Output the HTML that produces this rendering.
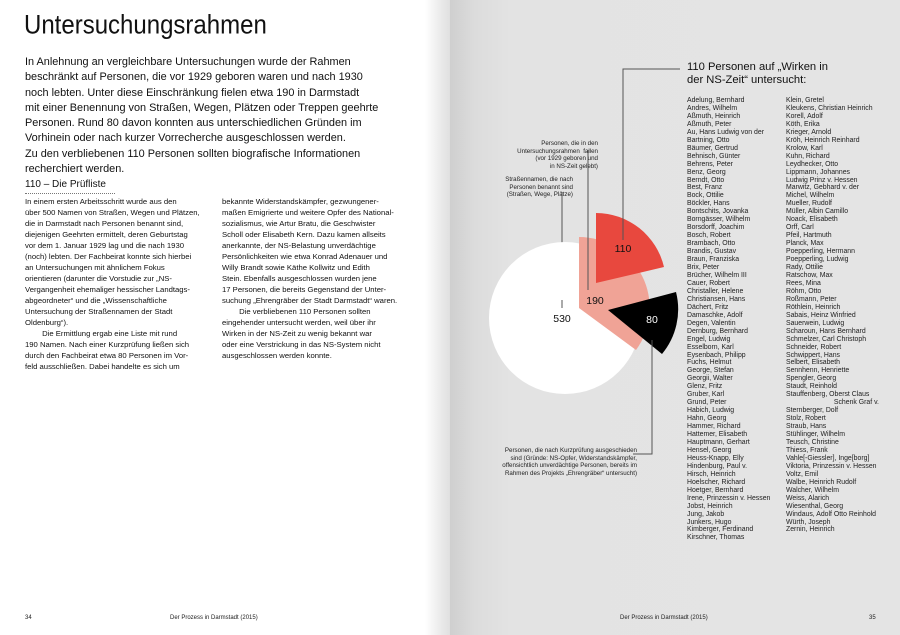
<!DOCTYPE html>
<html><head><meta charset="utf-8">
<style>
*{margin:0;padding:0}
body{width:900px;height:635px;position:relative;overflow:hidden;background:#fff;font-family:"Liberation Sans",sans-serif;color:#111}
#right{position:absolute;left:450px;top:0;width:450px;height:635px;background:linear-gradient(to right,#cfcfcf 0px,#dcdcdc 25px,#e3e3e3 60px,#e4e4e4 100%)}
#gut{position:absolute;left:425px;top:0;width:25px;height:635px;background:linear-gradient(to right,#fff,#e8e8e8 70%,#e0e0e0)}
.a{position:absolute;white-space:pre}
h1{position:absolute;left:24px;top:10px;font-weight:normal;font-size:24px;transform:scaleY(1.12);transform-origin:0 0;color:#111}
.intro{left:25px;top:55px;font-size:10.9px;line-height:15.3px}
.sub{left:25px;top:179px;font-size:10px;line-height:12px}
.dot{position:absolute;left:25px;top:193px;width:90px;border-top:1px dotted #777}
.body{font-size:7.7px;line-height:11px;top:196px}
.names{font-size:6.9px;line-height:7.95px;top:97px;color:#222}
.cap{font-size:6.2px;line-height:7.6px;text-align:right;color:#222}
.foot{font-size:6px;top:615px;color:#222}
</style></head><body>
<div id="gut"></div>
<div id="right"></div>
<h1>Untersuchungsrahmen</h1>
<div class="a intro">In Anlehnung an vergleichbare Untersuchungen wurde der Rahmen
beschränkt auf Personen, die vor 1929 geboren waren und nach 1930
noch lebten. Unter diese Einschränkung fielen etwa 190 in Darmstadt
mit einer Benennung von Straßen, Wegen, Plätzen oder Treppen geehrte
Personen. Rund 80 davon konnten aus unterschiedlichen Gründen im
Vorhinein oder nach kurzer Vorrecherche ausgeschlossen werden.
Zu den verbliebenen 110 Personen sollten biografische Informationen
recherchiert werden.</div>
<div class="a sub">110 – Die Prüfliste</div>
<div class="dot"></div>
<div class="a body" style="left:25px">In einem ersten Arbeitsschritt wurde aus den
über 500 Namen von Straßen, Wegen und Plätzen,
die in Darmstadt nach Personen benannt sind,
diejenigen Geehrten ermittelt, deren Geburtstag
vor dem 1. Januar 1929 lag und die nach 1930
(noch) lebten. Der Fachbeirat konnte sich hierbei
an Untersuchungen mit ähnlichem Fokus
orientieren (darunter die Vorstudie zur „NS-
Vergangenheit ehemaliger hessischer Landtags-
abgeordneter“ und die „Wissenschaftliche
Untersuchung der Straßennamen der Stadt
Oldenburg“).
        Die Ermittlung ergab eine Liste mit rund
190 Namen. Nach einer Kurzprüfung ließen sich
durch den Fachbeirat etwa 80 Personen im Vor-
feld ausschließen. Dabei handelte es sich um</div>
<div class="a body" style="left:222px">bekannte Widerstandskämpfer, gezwungener-
maßen Emigrierte und weitere Opfer des National-
sozialismus, wie Artur Bratu, die Geschwister
Scholl oder Elisabeth Kern. Dazu kamen allseits
anerkannte, der NS-Belastung unverdächtige
Persönlichkeiten wie etwa Konrad Adenauer und
Willy Brandt sowie Käthe Kollwitz und Edith
Stein. Ebenfalls ausgeschlossen wurden jene
17 Personen, die bereits Gegenstand der Unter-
suchung „Ehrengräber der Stadt Darmstadt“ waren.
        Die verbliebenen 110 Personen sollten
eingehender untersucht werden, weil über ihr
Wirken in der NS-Zeit zu wenig bekannt war
oder eine Verstrickung in das NS-System nicht
ausgeschlossen werden konnte.</div>

<svg class="a" style="left:0;top:0" width="900" height="635">
<g stroke="#555" stroke-width="1" fill="none">
<polyline points="623,240 623,69 680,69"/>
<line x1="588" y1="290" x2="588" y2="150"/>
<line x1="562" y1="308" x2="562" y2="192"/>
<polyline points="652,326 652,454 633,454"/>
</g>
<circle cx="565" cy="318" r="76" fill="#fff"/>
<path d="M579,308 L579,237 A71,71 0 0 1 636,350 Z" fill="#f0a396"/>
<path d="M596,283 L596,213 A70,70 0 0 1 664,267 Z" fill="#e8483e"/>
<path d="M608,310 L676,292 A70,70 0 0 1 662,354 Z" fill="#000"/>
<line x1="562" y1="308" x2="562" y2="300" stroke="#555"/>
<line x1="588" y1="290" x2="588" y2="237" stroke="#555"/>
<line x1="623" y1="240" x2="623" y2="213" stroke="#555"/>
<line x1="652" y1="354" x2="652" y2="340" stroke="#555"/>
<g font-family="Liberation Sans,sans-serif" font-size="10.5" text-anchor="middle">
<text x="562" y="322" fill="#111">530</text>
<text x="595" y="304" fill="#111">190</text>
<text x="623" y="252" fill="#111">110</text>
<text x="652" y="323" fill="#fff">80</text>
</g>
</svg>

<div class="a cap" style="right:302px;top:140px">Personen, die in den
Untersuchungsrahmen  fallen
(vor 1929 geboren und
in NS-Zeit gelebt)</div>
<div class="a cap" style="right:327px;top:176px">Straßennamen, die nach
Personen benannt sind
(Straßen, Wege, Plätze)</div>
<div class="a cap" style="right:263px;top:447px">Personen, die nach Kurzprüfung ausgeschieden
sind (Gründe: NS-Opfer, Widerstandskämpfer,
offensichtlich unverdächtige Personen, bereits im
Rahmen des Projekts „Ehrengräber“ untersucht)</div>

<div class="a" style="left:687px;top:61px;font-size:11.2px;line-height:12.5px;color:#111">110 Personen auf „Wirken in
der NS-Zeit“ untersucht:</div>

<div class="a names" style="left:687px">Adelung, Bernhard
Andres, Wilhelm
Aßmuth, Heinrich
Aßmuth, Peter
Au, Hans Ludwig von der
Bartning, Otto
Bäumer, Gertrud
Behnisch, Günter
Behrens, Peter
Benz, Georg
Berndt, Otto
Best, Franz
Bock, Ottilie
Böckler, Hans
Bontschits, Jovanka
Borngässer, Wilhelm
Borsdorff, Joachim
Bosch, Robert
Brambach, Otto
Brandis, Gustav
Braun, Franziska
Brix, Peter
Brücher, Wilhelm III
Cauer, Robert
Christaller, Helene
Christiansen, Hans
Dächert, Fritz
Damaschke, Adolf
Degen, Valentin
Dernburg, Bernhard
Engel, Ludwig
Esselborn, Karl
Eysenbach, Philipp
Fuchs, Helmut
George, Stefan
Georgii, Walter
Glenz, Fritz
Gruber, Karl
Grund, Peter
Habich, Ludwig
Hahn, Georg
Hammer, Richard
Hattemer, Elisabeth
Hauptmann, Gerhart
Hensel, Georg
Heuss-Knapp, Elly
Hindenburg, Paul v.
Hirsch, Heinrich
Hoelscher, Richard
Hoetger, Bernhard
Irene, Prinzessin v. Hessen
Jobst, Heinrich
Jung, Jakob
Junkers, Hugo
Kimberger, Ferdinand
Kirschner, Thomas</div>
<div class="a names" style="left:786px">Klein, Gretel
Kleukens, Christian Heinrich
Korell, Adolf
Köth, Erika
Krieger, Arnold
Kröh, Heinrich Reinhard
Krolow, Karl
Kuhn, Richard
Leydhecker, Otto
Lippmann, Johannes
Ludwig Prinz v. Hessen
Marwitz, Gebhard v. der
Michel, Wilhelm
Mueller, Rudolf
Müller, Albin Camillo
Noack, Elisabeth
Orff, Carl
Pfeil, Hartmuth
Planck, Max
Poepperling, Hermann
Poepperling, Ludwig
Rady, Ottilie
Ratschow, Max
Rees, Mina
Röhm, Otto
Roßmann, Peter
Röthlein, Heinrich
Sabais, Heinz Winfried
Sauerwein, Ludwig
Scharoun, Hans Bernhard
Schmelzer, Carl Christoph
Schneider, Robert
Schwippert, Hans
Selbert, Elisabeth
Sennhenn, Henriette
Spengler, Georg
Staudt, Reinhold
Stauffenberg, Oberst Claus
                         Schenk Graf v.
Sternberger, Dolf
Stolz, Robert
Straub, Hans
Stühlinger, Wilhelm
Teusch, Christine
Thiess, Frank
Vahle[-Giessler], Inge[borg]
Viktoria, Prinzessin v. Hessen
Voltz, Emil
Walbe, Heinrich Rudolf
Walcher, Wilhelm
Weiss, Alarich
Wiesenthal, Georg
Windaus, Adolf Otto Reinhold
Würth, Joseph
Zernin, Heinrich</div>

<div class="a foot" style="left:25px">34</div>
<div class="a foot" style="left:170px">Der Prozess in Darmstadt (2015)</div>
<div class="a foot" style="left:620px">Der Prozess in Darmstadt (2015)</div>
<div class="a foot" style="left:869px">35</div>
</body></html>
